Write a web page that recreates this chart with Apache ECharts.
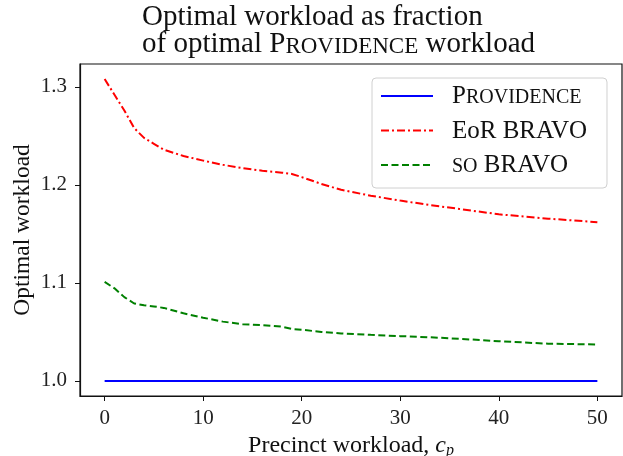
<!DOCTYPE html>
<html>
<head>
<meta charset="utf-8">
<script src="https://cdn.jsdelivr.net/npm/echarts@6/dist/echarts.min.js"></script>
<style>
html,body{margin:0;padding:0;background:#fff;}
#chart{width:623px;height:456px;}
</style>
</head>
<body>
<div id="chart"></div>
<script>
// ---- data ----
const xValues = [0, 1, 2, 3, 4, 5, 6, 8, 10, 12, 14, 16, 18, 19, 20, 22, 24, 27, 30, 33, 36, 40, 45, 50];
const providence = [1.0, 1.0, 1.0, 1.0, 1.0, 1.0, 1.0, 1.0, 1.0, 1.0, 1.0, 1.0, 1.0, 1.0, 1.0, 1.0, 1.0, 1.0, 1.0, 1.0, 1.0, 1.0, 1.0, 1.0];
const eorBravo = [1.308, 1.292, 1.276, 1.258, 1.248, 1.242, 1.236, 1.2295, 1.2248, 1.2205, 1.2172, 1.2145, 1.2125, 1.2112, 1.208, 1.201, 1.195, 1.189, 1.184, 1.1795, 1.1755, 1.170, 1.1656, 1.162];
const soBravo = [1.101, 1.0945, 1.0855, 1.079, 1.0772, 1.076, 1.0745, 1.069, 1.0645, 1.0605, 1.0578, 1.057, 1.0553, 1.053, 1.0522, 1.050, 1.0485, 1.047, 1.0457, 1.0445, 1.043, 1.0405, 1.038, 1.0372];
const xTicks = [0, 10, 20, 30, 40, 50];
const yTicks = [1.0, 1.1, 1.2, 1.3];
const seriesNames = ['Providence', 'EoR BRAVO', 'SO BRAVO'];

const FONT = '"Liberation Serif", "DejaVu Serif", serif';
const pairs = ys => xValues.map((x, i) => [x, ys[i]]);

const chart = echarts.init(document.getElementById('chart'), null, {renderer: 'canvas'});
const legRich = {
  big: {fontFamily: FONT, fontSize: 25, color: '#111', lineHeight: 26, verticalAlign: 'bottom'},
  sc: {fontFamily: FONT, fontSize: 20, color: '#111', lineHeight: 26, verticalAlign: 'bottom', padding: [0, 0, 1, 0]},
  sp: {width: 14, lineHeight: 26}
};
chart.setOption({
  animation: false,
  backgroundColor: '#fff',
  title: {
    text: '{big|Optimal workload as fraction}\n{big|of optimal P}{sc|ROVIDENCE}{big| workload}',
    left: 142, top: 5, padding: 0,
    textStyle: {
      fontFamily: FONT, fontSize: 29, fontWeight: 'normal', color: '#111', lineHeight: 27,
      rich: {
        big: {fontFamily: FONT, fontSize: 29, color: '#111', lineHeight: 27, verticalAlign: 'bottom'},
        sc: {fontFamily: FONT, fontSize: 23, color: '#111', lineHeight: 27, verticalAlign: 'bottom', padding: [0, 0, 1, 0]}
      }
    }
  },
  grid: {left: 80, right: 1, top: 64, bottom: 60, show: true, borderColor: '#111', borderWidth: 1.2,
    containLabel: false, outerBoundsMode: 'none'},
  legend: {
    orient: 'vertical',
    left: 372, top: 78,
    padding: [5, 20, 10, 8],
    itemWidth: 52, itemHeight: 14, itemGap: 8.5,
    backgroundColor: 'rgba(255,255,255,0.8)',
    borderColor: '#d0d0d0', borderWidth: 1, borderRadius: 4,
    itemStyle: {opacity: 0},
    data: seriesNames,
    formatter: function (name) {
      if (name === 'Providence') return '{sp|}{big|P}{sc|ROVIDENCE}';
      if (name === 'EoR BRAVO') return '{sp|}{big|EoR BRAVO}';
      return '{sp|}{sc|SO}{big| BRAVO}';
    },
    textStyle: {fontFamily: FONT, fontSize: 25, color: '#111', lineHeight: 26, rich: legRich}
  },
  xAxis: {
    type: 'value', min: -2.5, max: 52.5,
    name: 'Precinct workload, {i|c}{s|p}', nameLocation: 'middle', nameGap: 33,
    nameTextStyle: {
      fontFamily: FONT, fontSize: 24, color: '#111',
      rich: {
        i: {fontFamily: FONT, fontSize: 24, fontStyle: 'italic', color: '#111'},
        s: {fontFamily: FONT, fontSize: 16, fontStyle: 'italic', color: '#111', padding: [10, 0, 0, 0]}
      }
    },
    axisLine: {show: true, onZero: false, lineStyle: {color: '#111', width: 1.2}},
    axisTick: {show: true, length: 5, customValues: xTicks, lineStyle: {color: '#111', width: 1}},
    axisLabel: {customValues: xTicks, margin: 12, fontFamily: FONT, fontSize: 21, color: '#222'},
    splitLine: {show: false}
  },
  yAxis: {
    type: 'value', min: 0.9846, max: 1.3234,
    name: 'Optimal workload', nameLocation: 'middle', nameRotate: 90, nameGap: 45,
    nameMoveOverlap: false,
    nameTextStyle: {fontFamily: FONT, fontSize: 23.5, color: '#111'},
    axisLine: {show: true, onZero: false, lineStyle: {color: '#111', width: 1.2}},
    axisTick: {show: true, length: 5, customValues: yTicks, lineStyle: {color: '#111', width: 1}},
    axisLabel: {customValues: yTicks, margin: 13, fontFamily: FONT, fontSize: 21, color: '#222',
      formatter: v => v.toFixed(1)},
    splitLine: {show: false}
  },
  series: [
    {name: seriesNames[0], type: 'line', data: pairs(providence), symbol: 'none',
      lineStyle: {color: '#0000ff', width: 2}, itemStyle: {color: '#0000ff'}, z: 3},
    {name: seriesNames[1], type: 'line', data: pairs(eorBravo), symbol: 'none',
      lineStyle: {color: '#ff0000', width: 2, type: [8, 3, 2, 3]}, itemStyle: {color: '#ff0000'}, z: 2},
    {name: seriesNames[2], type: 'line', data: pairs(soBravo), symbol: 'none',
      lineStyle: {color: '#008000', width: 2, type: [7, 3.5]}, itemStyle: {color: '#008000'}, z: 2}
  ]
});
</script>
</body>
</html>
